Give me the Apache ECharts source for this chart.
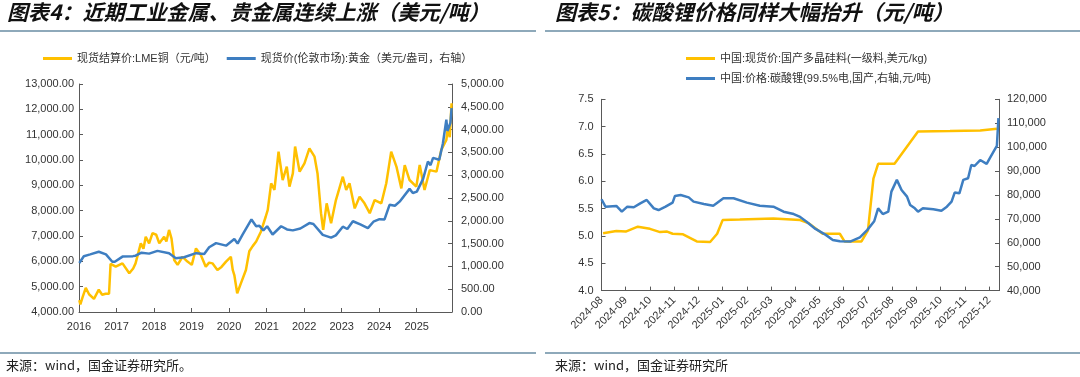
<!DOCTYPE html>
<html>
<head>
<meta charset="utf-8">
<script src="https://cdn.jsdelivr.net/npm/echarts@6/dist/echarts.min.js"></script>
<style>
html, body { margin: 0; padding: 0; background: #fff; }
#chart { width: 1080px; height: 377px; }
</style>
</head>
<body>
<div id="chart"></div>
<script>
// 图表4: LME铜 (左轴) / 伦敦金 (右轴)
var copperDates = ['2016-01-04','2016-01-14','2016-02-06','2016-03-07','2016-04-08','2016-05-26','2016-07-12','2016-08-14','2016-09-16','2016-10-20',
    '2016-11-04','2016-12-24','2017-02-28','2017-05-05','2017-06-12','2017-07-05','2017-08-25','2017-09-20','2017-10-12','2017-11-14',
    '2017-12-17','2018-01-22','2018-02-21','2018-04-09','2018-05-01','2018-05-27','2018-06-20','2018-07-16','2018-08-18','2018-10-05',
    '2018-11-22','2019-01-03','2019-02-13','2019-04-01','2019-05-19','2019-06-21','2019-07-23','2019-09-09','2019-10-19','2019-12-02',
    '2020-01-18','2020-02-06','2020-02-21','2020-03-20','2020-04-25','2020-06-13','2020-07-16','2020-08-18','2020-09-21','2020-11-06',
    '2020-12-23','2021-01-12','2021-02-14','2021-03-18','2021-04-27','2021-06-06','2021-07-16','2021-08-11','2021-09-13','2021-10-05',
    '2021-11-18','2022-01-04','2022-02-21','2022-04-12','2022-05-11','2022-06-14','2022-07-05','2022-08-08','2022-09-20','2022-11-06',
    '2023-01-12','2023-02-14','2023-03-18','2023-05-08','2023-06-24','2023-08-11','2023-10-01','2023-11-18','2024-01-22','2024-03-10',
    '2024-04-27','2024-06-17','2024-08-04','2024-09-06','2024-10-23','2024-12-28','2025-01-30','2025-03-18','2025-05-08','2025-07-12',
    '2025-08-28','2025-10-16','2025-10-30','2025-11-18','2025-12-06'];
var copperValues = [4470,4300,4600,4950,4700,4520,4880,4680,4720,4720,
    5900,5790,5920,5530,5720,5920,6710,6500,6970,6710,
    7110,7050,6710,6970,6780,7240,6900,6050,5860,6180,
    5990,5860,6510,6250,5790,5950,5920,5660,5780,5990,
    6180,5650,5460,4740,5130,5660,6400,6600,6780,7170,
    7760,8030,9080,8820,10330,9210,9740,8950,9470,10530,
    9540,9870,10460,10130,9470,7900,7240,8290,7500,8420,
    9340,8820,9080,8090,8550,8290,7900,8420,8290,9080,
    10330,9740,8880,9800,9210,8950,9800,8820,9600,9540,
    10400,10790,11250,10900,12240];
var goldDates = ['2016-01-04','2016-02-17','2016-04-19','2016-07-12','2016-09-20','2016-11-21','2016-12-15','2017-02-28','2017-06-10','2017-07-05',
    '2017-09-01','2017-11-14','2018-02-03','2018-05-27','2018-08-01','2018-10-20','2019-02-13','2019-05-04','2019-06-21','2019-08-27',
    '2019-12-02','2020-02-21','2020-03-24','2020-05-10','2020-08-06','2020-09-21','2020-10-23','2020-11-30','2021-01-06','2021-02-28',
    '2021-05-22','2021-07-18','2021-09-13','2021-11-25','2022-02-21','2022-04-01','2022-07-01','2022-09-20','2022-11-05','2023-01-12',
    '2023-02-25','2023-04-20','2023-07-01','2023-09-13','2023-11-06','2024-01-04','2024-02-22','2024-04-11','2024-06-02','2024-07-18',
    '2024-10-23','2024-11-24','2025-01-02','2025-03-04','2025-04-20','2025-05-15','2025-06-09','2025-08-08','2025-09-13','2025-10-16',
    '2025-10-27','2025-11-25','2025-12-06'];
var goldValues = [1075,1224,1263,1322,1265,1103,1100,1215,1225,1235,
    1300,1280,1340,1290,1180,1200,1290,1270,1420,1510,
    1455,1600,1500,1690,2030,1880,1890,1790,1880,1700,
    1880,1810,1790,1830,1950,1930,1690,1630,1680,1870,
    1820,1990,1920,1840,1980,2035,2030,2350,2330,2420,
    2700,2610,2640,2920,3300,3220,3380,3340,3700,4220,
    3970,4150,4470];
var yearLabels = ['2016','2017','2018','2019','2020','2021','2022','2023','2024','2025'];

// 图表5: 多晶硅料 (左轴) / 碳酸锂 (右轴)
var siliconDates = ['2024-08-03','2024-08-20','2024-09-01','2024-09-16','2024-10-01','2024-10-14','2024-10-23','2024-10-30','2024-11-12','2024-11-29',
    '2024-12-16','2024-12-25','2025-01-01','2025-01-23','2025-03-04','2025-04-07','2025-04-18','2025-05-05','2025-05-27','2025-06-02',
    '2025-06-23','2025-07-01','2025-07-08','2025-07-14','2025-08-04','2025-09-03','2025-10-13','2025-11-20','2025-12-11'];
var siliconValues = [5.05,5.09,5.08,5.17,5.13,5.07,5.08,5.04,5.03,4.90,
    4.89,5.04,5.29,5.30,5.32,5.29,5.23,5.04,5.04,4.90,
    4.90,5.10,6.05,6.32,6.32,6.91,6.92,6.93,6.96];
var lithiumDates = ['2024-08-01','2024-08-06','2024-08-20','2024-08-27','2024-09-03','2024-09-11','2024-09-19','2024-09-27','2024-10-06','2024-10-12',
    '2024-10-21','2024-10-30','2024-11-02','2024-11-09','2024-11-19','2024-11-25','2024-12-08','2024-12-20','2025-01-02','2025-01-15',
    '2025-02-01','2025-02-16','2025-03-04','2025-03-17','2025-03-30','2025-04-07','2025-04-15','2025-04-26','2025-05-09','2025-05-18',
    '2025-05-27','2025-06-09','2025-06-21','2025-06-30','2025-07-09','2025-07-14','2025-07-20','2025-07-27','2025-07-31','2025-08-07',
    '2025-08-13','2025-08-20','2025-08-24','2025-08-30','2025-09-03','2025-09-09','2025-09-22','2025-10-02','2025-10-09','2025-10-15',
    '2025-10-19','2025-10-25','2025-10-30','2025-11-05','2025-11-09','2025-11-13','2025-11-20','2025-11-28','2025-12-02','2025-12-08',
    '2025-12-11','2025-12-13'];
var lithiumValues = [78200,75100,75400,73000,75100,74850,76500,77900,74400,73700,
    75100,76800,79600,80000,79000,77200,76200,75500,78600,78600,
    76800,75500,75100,73000,72000,70800,68800,65800,63300,61200,
    60600,60500,62300,65300,69000,74400,72000,73000,81400,86300,
    82100,79300,75800,74400,73000,74400,74000,73400,75100,77200,
    81000,80700,86300,87000,92500,92100,94600,93000,95400,98800,
    100500,112100];
var monthLabels = ['2024-08','2024-09','2024-10','2024-11','2024-12','2025-01','2025-02','2025-03','2025-04',
    '2025-05','2025-06','2025-07','2025-08','2025-09','2025-10','2025-11','2025-12'];

var YELLOW = '#FFC000';
var BLUE = '#3E7EC1';
var AXIS = '#595959';
var FONT = '"Liberation Sans", "Noto Sans CJK SC", sans-serif';

// 日期 -> 年份小数 (同Excel日期轴, 每年等宽)
function toYear(d) {
    var t = Date.parse(d + 'T00:00:00Z');
    var y = +d.slice(0, 4);
    var s = Date.UTC(y, 0, 1), e = Date.UTC(y + 1, 0, 1);
    return y + (t - s) / (e - s);
}
// 日期 -> 月序号 (2024-08 = 0, 每月等宽)
function toMonth(d) {
    var p = d.split('-');
    var y = +p[0], m = +p[1], day = +p[2];
    var dim = new Date(Date.UTC(y, m, 0)).getUTCDate();
    return (y - 2024) * 12 + (m - 8) + (day - 1) / dim;
}
function pair(dates, values, conv) {
    return dates.map(function (d, i) { return [conv(d), values[i]]; });
}
function isInt(v) { return Math.abs(v - Math.round(v)) < 1e-6; }
function thousands(s) { return s.replace(/\B(?=(\d{3})+(?!\d))/g, ','); }
function fmt2(v) { var s = v.toFixed(2).split('.'); return thousands(s[0]) + '.' + s[1]; }
function fmt0(v) { return thousands(String(Math.round(v))); }

function axisBase(extra) {
    var o = {
        type: 'value',
        axisLine: { show: true, onZero: false, lineStyle: { color: AXIS, width: 1 } },
        axisTick: { show: true, inside: true, length: 4, lineStyle: { color: AXIS } },
        axisLabel: { fontSize: 11, color: '#333', fontFamily: FONT },
        splitLine: { show: false }
    };
    for (var k in extra) {
        if (typeof extra[k] === 'object' && o[k]) {
            for (var j in extra[k]) o[k][j] = extra[k][j];
        } else {
            o[k] = extra[k];
        }
    }
    return o;
}

var chart = echarts.init(document.getElementById('chart'));

var option = {
    animation: false,
    backgroundColor: '#fff',
    textStyle: { fontFamily: FONT },
    grid: [
        { left: 79, top: 84, width: 373, height: 228 },
        { left: 601.5, top: 99.3, width: 397.5, height: 191.3 }
    ],
    legend: [
        {
            left: 38, top: 48, itemWidth: 29, itemHeight: 3, icon: 'rect', itemGap: 11,
            textStyle: { fontSize: 11, color: '#333', fontFamily: FONT },
            data: ['现货结算价:LME铜（元/吨）', '现货价(伦敦市场):黄金（美元/盎司，右轴）']
        },
        {
            left: 681, top: 48, orient: 'vertical', itemWidth: 29, itemHeight: 3, icon: 'rect', itemGap: 9,
            textStyle: { fontSize: 11, color: '#333', fontFamily: FONT },
            data: ['中国:现货价:国产多晶硅料(一级料,美元/kg)', '中国:价格:碳酸锂(99.5%电,国产,右轴,元/吨)']
        }
    ],
    xAxis: [
        axisBase({
            gridIndex: 0, min: 2016, max: 2025.94, interval: 1,
            axisLabel: { margin: 9, formatter: function (v) { return isInt(v) ? yearLabels[Math.round(v) - 2016] : ''; } }
        }),
        axisBase({
            gridIndex: 1, min: 0, max: 16.41, interval: 1,
            axisLabel: { margin: 8, rotate: 45, interval: 0, formatter: function (v) { return isInt(v) ? monthLabels[Math.round(v)] : ''; } }
        })
    ],
    yAxis: [
        axisBase({ gridIndex: 0, min: 4000, max: 13000, interval: 1000, axisLabel: { margin: 5, formatter: fmt2 } }),
        axisBase({ gridIndex: 0, position: 'right', min: 0, max: 5000, interval: 500, axisLabel: { margin: 9, formatter: fmt2 } }),
        axisBase({ gridIndex: 1, min: 4, max: 7.5, interval: 0.5, axisLabel: { margin: 8, formatter: function (v) { return v.toFixed(1); } } }),
        axisBase({ gridIndex: 1, position: 'right', min: 40000, max: 120000, interval: 10000, axisLabel: { margin: 8, formatter: fmt0 } })
    ],
    series: [
        {
            name: '现货结算价:LME铜（元/吨）', type: 'line', xAxisIndex: 0, yAxisIndex: 0,
            showSymbol: false, color: YELLOW, lineStyle: { width: 2.5, color: YELLOW },
            data: pair(copperDates, copperValues, toYear)
        },
        {
            name: '现货价(伦敦市场):黄金（美元/盎司，右轴）', type: 'line', xAxisIndex: 0, yAxisIndex: 1,
            showSymbol: false, color: BLUE, lineStyle: { width: 2.5, color: BLUE },
            data: pair(goldDates, goldValues, toYear)
        },
        {
            name: '中国:现货价:国产多晶硅料(一级料,美元/kg)', type: 'line', xAxisIndex: 1, yAxisIndex: 2,
            showSymbol: false, color: YELLOW, lineStyle: { width: 2.5, color: YELLOW },
            data: pair(siliconDates, siliconValues, toMonth)
        },
        {
            name: '中国:价格:碳酸锂(99.5%电,国产,右轴,元/吨)', type: 'line', xAxisIndex: 1, yAxisIndex: 3,
            showSymbol: false, color: BLUE, lineStyle: { width: 2.5, color: BLUE },
            data: pair(lithiumDates, lithiumValues, toMonth)
        }
    ],
    graphic: [
        { type: 'text', left: 7, top: 2, style: { text: '图表4：近期工业金属、贵金属连续上涨（美元/吨）', font: 'italic bold 21px "Noto Sans CJK SC"', fill: '#111' } },
        { type: 'text', left: 555, top: 2, style: { text: '图表5：碳酸锂价格同样大幅抬升（元/吨）', font: 'italic bold 21px "Noto Sans CJK SC"', fill: '#111' } },
        { type: 'line', shape: { x1: 0, y1: 31, x2: 536, y2: 31 }, style: { stroke: '#8EA9BA', lineWidth: 2 } },
        { type: 'line', shape: { x1: 545, y1: 31, x2: 1080, y2: 31 }, style: { stroke: '#8EA9BA', lineWidth: 2 } },
        { type: 'line', shape: { x1: 0, y1: 353, x2: 536, y2: 353 }, style: { stroke: '#8EA9BA', lineWidth: 2 } },
        { type: 'line', shape: { x1: 545, y1: 353, x2: 1080, y2: 353 }, style: { stroke: '#8EA9BA', lineWidth: 2 } },
        { type: 'text', left: 6, top: 359, style: { text: '来源：wind，国金证券研究所。', font: '13px "Noto Sans CJK SC"', fill: '#222' } },
        { type: 'text', left: 555, top: 359, style: { text: '来源：wind，国金证券研究所', font: '13px "Noto Sans CJK SC"', fill: '#222' } }
    ]
};

chart.setOption(option);
</script>
</body>
</html>
